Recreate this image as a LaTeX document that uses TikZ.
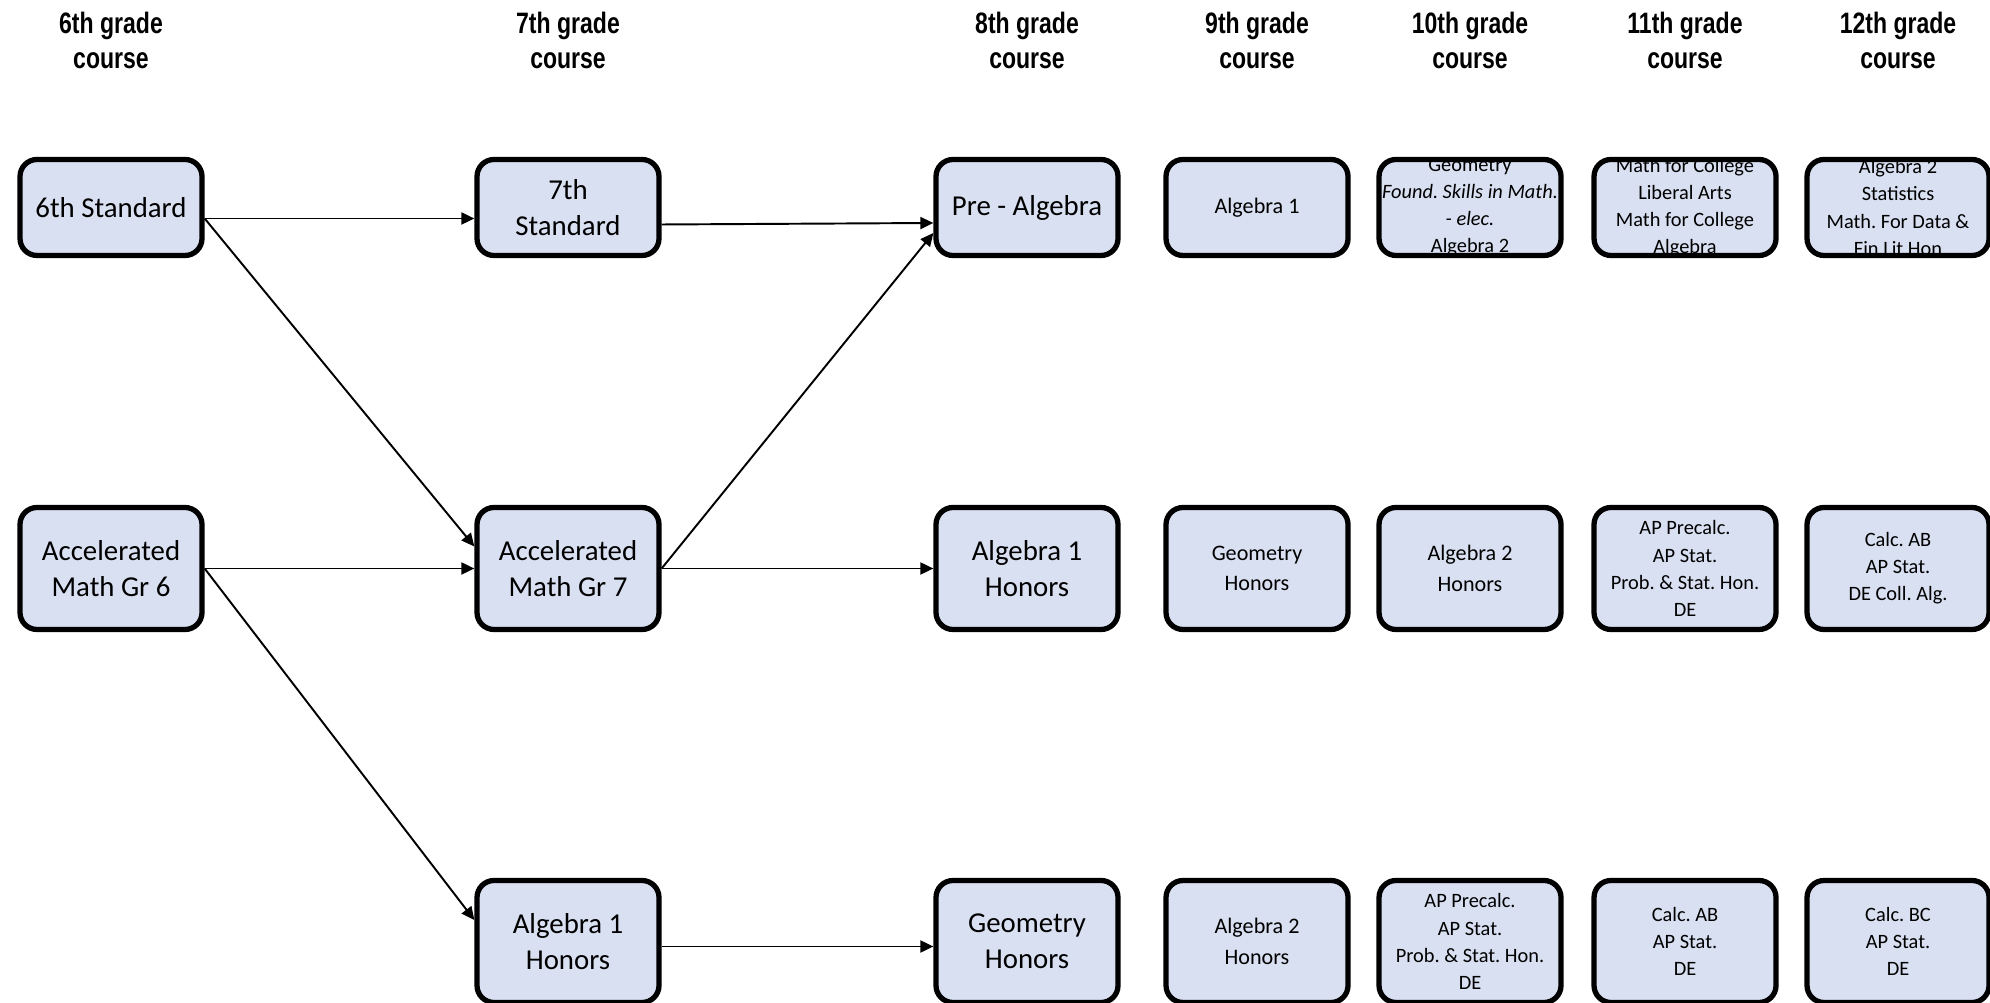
\documentclass[tikz,border=0pt]{standalone}
\usepackage{fontspec}
\setmainfont{Carlito}
\newfontfamily\headfont[FakeStretch=0.78]{Liberation Sans}
\usepackage{tikz}
\usetikzlibrary{arrows.meta}
\definecolor{boxblue}{RGB}{217,224,241}
\frenchspacing

\begin{document}
\begin{tikzpicture}[
        box_style/.style={rectangle,rounded corners=0.17cm,draw=black,line width=1.5pt,fill=boxblue,minimum width=1.82cm,minimum height=1.22cm,align=center,inner sep=0pt,font=\fontsize{8.2}{10.2}\selectfont},
        low_box_style/.style={box_style,minimum height=0.96cm},
        mid_text_style/.style={font=\fontsize{6.3}{8.6}\selectfont},
        small_text_style/.style={font=\fontsize{5.8}{7.7}\selectfont},
        head_style/.style={align=center,font=\headfont\bfseries\fontsize{8.4}{10}\selectfont},
        edge_style/.style={draw=black,line width=0.55pt,-{Triangle[length=0.13cm,width=0.12cm]}}]

        \useasboundingbox (0,0) rectangle (19.90,-10.03);

        % headers
        \node [head_style](h1) at (1.11,-0.405) {6th grade\\course};

        \node [head_style](h2) at (5.68,-0.405) {7th grade\\course};

        \node [head_style](h3) at (10.27,-0.405) {8th grade\\course};

        \node [head_style](h4) at (12.57,-0.405) {9th grade\\course};

        \node [head_style](h5) at (14.70,-0.405) {10th grade\\course};

        \node [head_style](h6) at (16.85,-0.405) {11th grade\\course};

        \node [head_style](h7) at (18.98,-0.405) {12th grade\\course};

        % top row
        \node [low_box_style](n1) at (1.11,-2.075) {6th Standard};

        \node [low_box_style](n2) at (5.68,-2.075) {7th\\Standard};

        \node [low_box_style](n3) at (10.27,-2.075) {Pre - Algebra};

        \node [low_box_style,mid_text_style](n4) at (12.57,-2.075) {Algebra 1};

        \node [low_box_style,path picture={\node [small_text_style] at (path picture bounding box.center) {Geometry\\\textit{Found. Skills in Math.}\\\textit{- elec.}\\Algebra 2};}](n5) at (14.70,-2.075) {};

        \node [low_box_style,path picture={\node [small_text_style] at (path picture bounding box.center) {Math for College\\Liberal Arts\\Math for College\\Algebra};}](n6) at (16.85,-2.075) {};

        \node [low_box_style,path picture={\node [small_text_style] at (path picture bounding box.center) {Algebra 2\\Statistics\\Math. For Data \&\\Fin Lit Hon};}](n7) at (18.98,-2.075) {};

        % middle row
        \node [box_style](n8) at (1.11,-5.685) {Accelerated\\Math Gr 6};

        \node [box_style](n9) at (5.68,-5.685) {Accelerated\\Math Gr 7};

        \node [box_style](n10) at (10.27,-5.685) {Algebra 1\\Honors};

        \node [box_style,mid_text_style](n11) at (12.57,-5.685) {Geometry\\Honors};

        \node [box_style,mid_text_style](n12) at (14.70,-5.685) {Algebra 2\\Honors};

        \node [box_style,small_text_style](n13) at (16.85,-5.685) {AP Precalc.\\AP Stat.\\Prob. \& Stat. Hon.\\DE};

        \node [box_style,small_text_style](n14) at (18.98,-5.685) {Calc. AB\\AP Stat.\\DE Coll. Alg.};

        % bottom row
        \node [box_style](n15) at (5.68,-9.415) {Algebra 1\\Honors};

        \node [box_style](n16) at (10.27,-9.415) {Geometry\\Honors};

        \node [box_style,mid_text_style](n17) at (12.57,-9.415) {Algebra 2\\Honors};

        \node [box_style,small_text_style](n18) at (14.70,-9.415) {AP Precalc.\\AP Stat.\\Prob. \& Stat. Hon.\\DE};

        \node [box_style,small_text_style](n19) at (16.85,-9.415) {Calc. AB\\AP Stat.\\DE};

        \node [box_style,small_text_style](n20) at (18.98,-9.415) {Calc. BC\\AP Stat.\\DE};

        % arrows
        \draw [edge_style] ([yshift=-0.11cm]n1.east) -- ([yshift=-0.11cm]n2.west);

        \draw [edge_style] ([yshift=-0.17cm]n2.east) -- ([yshift=-0.155cm]n3.west);

        \draw [edge_style] ([yshift=-0.11cm]n1.east) -- ([yshift=0.22cm]n9.west);

        \draw [edge_style] (n8.east) -- (n9.west);

        \draw [edge_style] (n8.east) -- ([yshift=0.215cm]n15.west);

        \draw [edge_style] (n9.east) -- ([yshift=-0.255cm]n3.west);

        \draw [edge_style] (n9.east) -- (n10.west);

        \draw [edge_style] ([yshift=-0.05cm]n15.east) -- ([yshift=-0.05cm]n16.west);

\end{tikzpicture}
\end{document}
